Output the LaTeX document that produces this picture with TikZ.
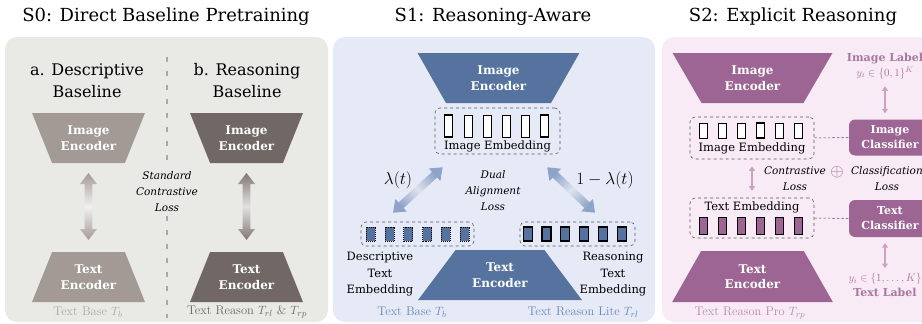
\documentclass[tikz,border=0pt]{standalone}
\usepackage{amsmath}
\usepackage{amssymb}
\usepackage{fontspec}
\newfontfamily\dvs{DejaVu Serif}
\usetikzlibrary{shapes.geometric,calc,positioning,arrows.meta}

\definecolor{bgzero}{HTML}{E9EAE5}
\definecolor{bgone}{HTML}{E5EAF6}
\definecolor{bgtwo}{HTML}{F8EBF5}
\definecolor{greyA}{HTML}{A39A96}
\definecolor{greyB}{HTML}{716865}
\definecolor{labA}{HTML}{ADA7A3}
\definecolor{labB}{HTML}{6E6662}
\definecolor{blueenc}{HTML}{56729E}
\definecolor{bluearr}{HTML}{8EA3C9}
\definecolor{bluelab}{HTML}{6A86B8}
\definecolor{purpenc}{HTML}{9D6594}
\definecolor{purplab}{HTML}{A9779F}
\definecolor{purpsoft}{HTML}{C9A3C0}

% fat double arrow between two named coordinates
\newcommand{\fatarrow}[3][]{%
  \shade[#1] (#2) -- ($(#2)!11pt!(#3)!8.5pt!90:(#3)$) -- ($(#2)!11pt!(#3)!3.8pt!90:(#3)$)
    -- ($(#3)!11pt!(#2)!3.8pt!-90:(#2)$) -- ($(#3)!11pt!(#2)!8.5pt!-90:(#2)$) -- (#3)
    -- ($(#3)!11pt!(#2)!8.5pt!90:(#2)$) -- ($(#3)!11pt!(#2)!3.8pt!90:(#2)$)
    -- ($(#2)!11pt!(#3)!3.8pt!-90:(#3)$) -- ($(#2)!11pt!(#3)!8.5pt!-90:(#3)$) -- cycle;}

\tikzset{
  ptitle/.style={font=\dvs\fontsize{18}{21}\selectfont},
  phead/.style={font=\dvs\fontsize{16}{22}\selectfont, align=center},
  enc/.style={trapezium, trapezium stretches=true, inner sep=1pt, text=white,
    align=center, font=\dvs\bfseries\fontsize{12}{15.5}\selectfont},
  embbox/.style={draw=black!65, dashed, rounded corners=5, line width=0.6pt},
  cell/.style={draw=black, line width=0.9pt, minimum width=8, minimum height=#1, inner sep=0pt},
  cell/.default=15,
  embtxt/.style={font=\dvs\fontsize{11.5}{16.5}\selectfont, align=center},
  lossit/.style={font=\dvs\itshape\fontsize{10.5}{16}\selectfont, align=center},
  sublab/.style={font=\fontsize{12.5}{14}\selectfont},
  lamb/.style={font=\fontsize{17}{19}\selectfont},
  clsbox/.style={fill=purpenc, rounded corners=6, text=white, align=center,
    font=\dvs\bfseries\fontsize{11}{15}\selectfont, minimum width=82, inner sep=0pt},
  lablab/.style={text=purplab, align=center, font=\dvs\bfseries\fontsize{11}{14.5}\selectfont},
  thinarr/.style={{Triangle[length=4.5pt,width=6pt]}-{Triangle[length=4.5pt,width=6pt]},
    draw=purpsoft, line width=1.5pt},
  dashcon/.style={draw=black!70, line width=0.5pt, dash pattern=on 2.5pt off 2pt},
  sepline/.style={draw=labA, line width=2.2pt, dash pattern=on 5pt off 9pt},
  fatfill/.style 2 args={top color=#1, bottom color=#1, middle color=#2}
}

\begin{document}
\begin{tikzpicture}[x=1pt,y=-1pt]
\useasboundingbox (0,0) rectangle (922,324);

% panels
\fill[bgzero, rounded corners=12] (5,37) rectangle (328,322);
\fill[bgone, rounded corners=12] (333,37) rectangle (655,322);
\fill[bgtwo, rounded corners=12] (662,37) rectangle (945,322);

% ---- S0
\node[ptitle] (tzero) at (166,17) {S0: Direct Baseline Pretraining};
\node[phead] (hdesc) at (87,81) {a. Descriptive\\Baseline};
\node[phead] (hreas) at (247,81) {b. Reasoning\\Baseline};
\node[enc, fill=greyA, shape border rotate=180, minimum width=113, minimum height=50,
  trapezium angle=59] (imgA) at (88.5,138) {Image\\Encoder};
\node[enc, fill=greyA, minimum width=113, minimum height=50,
  trapezium angle=59] (txtA) at (88.5,277) {Text\\Encoder};
\node[enc, fill=greyB, shape border rotate=180, minimum width=113, minimum height=50,
  trapezium angle=59] (imgB) at (246.5,138) {Image\\Encoder};
\node[enc, fill=greyB, minimum width=113, minimum height=50,
  trapezium angle=59] (txtB) at (246.5,277) {Text\\Encoder};
\node[lossit] (losszero) at (167,192) {Standard\\Contrastive\\Loss};
\draw[sepline] (167,57) -- (losszero.north);
\draw[sepline] (losszero.south) -- (167,318);
\coordinate (azt) at ($(imgA.center)+(0,35)$);
\coordinate (azb) at ($(txtA.center)+(0,-37)$);
\coordinate (bzt) at ($(imgB.center)+(0,35)$);
\coordinate (bzb) at ($(txtB.center)+(0,-37)$);
\fatarrow[fatfill={greyA}{white!85!greyA}]{azt}{azb}
\fatarrow[fatfill={greyB!90}{white!80!greyB}]{bzt}{bzb}
\node[sublab, text=labA] (basezero) at (88,312) {Text Base $T_b$};
\node[sublab, text=labB] (reaszero) at (247,312) {Text Reason $T_{rl}$ \& $T_{rp}$};

% ---- S1
\node[ptitle] (tone) at (493,17) {S1: Reasoning-Aware};
\node[enc, fill=blueenc, shape border rotate=180, minimum width=163, minimum height=50,
  trapezium angle=59.5] (imgone) at (498.5,78) {Image\\Encoder};
\node[embbox, minimum width=125, minimum height=46] (embone) at (497.5,131) {};
\foreach \i/\w in {0/1.1,1/0.8,2/0.8,3/0.8,4/0.9,5/1.2}
  \node[cell=22, fill=white, line width=\w pt] at ($(embone.west)+(14+\i*19.2,-5)$) {};
\node[embtxt] (embonetxt) at ($(embone.center)+(0,15)$) {Image Embedding};
\node[lamb] (lamleft) at (398,180) {$\lambda(t)$};
\node[lamb] (lamright) at (605,180) {$1-\lambda(t)$};
\node[lossit] (lossone) at (493,191) {Dual\\Alignment\\Loss};
\node[embbox, minimum width=113, minimum height=24] (descone) at (417.5,234) {};
\foreach \i in {0,...,5}
  \node[cell=14, minimum width=9, fill=blueenc, densely dotted, line width=0.7pt]
    at ($(descone.west)+(10+\i*18.8,0)$) {};
\node[embbox, minimum width=115, minimum height=24] (reasone) at (577.5,234) {};
\foreach \i in {0,...,5}
  \node[cell=14, minimum width=9, fill=blueenc, line width=1.1pt]
    at ($(reasone.west)+(8+\i*18.8,0)$) {};
\coordinate (lt) at ($(embone.south west)+(8,13)$);
\coordinate (lb) at ($(descone.north)+(-24.5,-9)$);
\coordinate (rt) at ($(embone.south east)+(-13,13)$);
\coordinate (rb) at ($(reasone.north)+(17.5,-9)$);
\fatarrow[fatfill={bluearr}{white!70!bluearr}, shading angle=-47]{lt}{lb}
\fatarrow[fatfill={bluearr}{white!70!bluearr}, shading angle=47]{rt}{rb}
\node[enc, fill=blueenc, minimum width=164, minimum height=50,
  trapezium angle=47.4] (txtone) at (500,275) {Text\\Encoder};
\node[embtxt] (descname) at (380,274.5) {Descriptive\\Text\\Embedding};
\node[embtxt] (reasname) at (613,274.5) {Reasoning\\Text\\Embedding};
\node[sublab, text=bluelab] (baseone) at (412,312) {Text Base $T_b$};
\node[sublab, text=bluelab] (liteone) at (583,312) {Text Reason Lite $T_{rl}$};

% ---- S2
\node[ptitle] (ttwo) at (793,17) {S2: Explicit Reasoning};
\node[enc, fill=purpenc, shape border rotate=180, minimum width=161, minimum height=50,
  trapezium angle=58.2] (imgtwo) at (752.5,78) {Image\\Encoder};
\node[embbox, minimum width=124, minimum height=42] (embtwo) at (752,138) {};
\foreach \i/\w in {0/1.0,1/0.8,2/0.8,3/1.4,4/0.8,5/1.0}
  \node[cell=15, fill=white, line width=\w pt] at ($(embtwo.west)+(14+\i*19,-7.5)$) {};
\node[embtxt] (embtwotxt) at ($(embtwo.center)+(0,10)$) {Image Embedding};
\node[embbox, minimum width=124, minimum height=40] (txtembtwo) at (752,218) {};
\node[embtxt] (txtembtwotxt) at ($(txtembtwo.center)+(0,-11)$) {Text Embedding};
\foreach \i in {0,...,5}
  \node[cell=17, fill=purpenc] at ($(txtembtwo.west)+(14+\i*19,7.5)$) {};
\node[clsbox, minimum height=36] (imgcls) at (890,137.5) {Image\\Classifier};
\node[clsbox, minimum height=37] (txtcls) at (890,218.5) {Text\\Classifier};
\draw[dashcon] (embtwo.east) -- (imgcls.west);
\draw[dashcon] (txtembtwo.east) -- (txtcls.west);
\draw[thinarr, shorten <=7pt, shorten >=7pt] (embtwo.south) -- (txtembtwo.north);
\node[lossit] (losstwo) at (795,179) {Contrastive\\Loss};
\node[text=purpenc, font=\fontsize{19}{19}\selectfont] (oplus) at (837,172) {$\oplus$};
\node[lossit] (lossthree) at (887,179) {Classification\\Loss};
\node[lablab] (imglab) at (885,66) {Image Label\\$y_i\in\{0,1\}^K$};
\draw[thinarr, shorten <=4pt, shorten >=6pt] (imglab.south) -- (imglab.south |- imgcls.north);
\node[lablab] (txtlab) at (885,285) {$y_i\in\{1,\ldots,K\}$\\Text Label};
\draw[thinarr, shorten <=6pt, shorten >=2pt] (txtlab.north |- txtcls.south) -- (txtlab.north);
\node[enc, fill=purpenc, minimum width=161, minimum height=51,
  trapezium angle=58.5] (txttwo) at (752.5,276.5) {Text\\Encoder};
\node[sublab, text=purplab!85] (protwo) at (750,313) {Text Reason Pro $T_{rp}$};
\end{tikzpicture}
\end{document}
